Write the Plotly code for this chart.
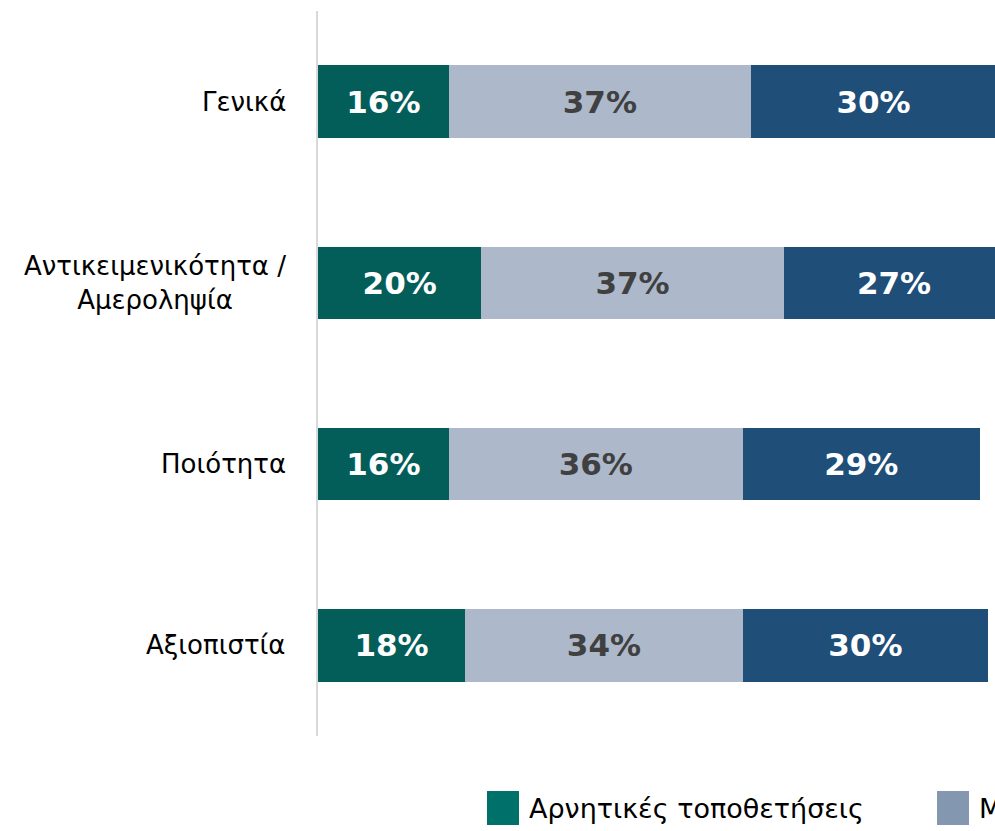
import plotly.graph_objects as go

categories = ["Γενικά", "Αντικειμενικότητα /<br>Αμεροληψία", "Ποιότητα", "Αξιοπιστία"]
negative = [16, 20, 16, 18]
mixed = [37, 37, 36, 34]
positive = [30, 27, 29, 30]
series_names = ["Αρνητικές τοποθετήσεις", "Μεικτές τοποθετήσεις", "Θετικές τοποθετήσεις"]

bar_colors = ["#035E5A", "#ADB9CA", "#1F4E79"]
legend_colors = ["#00706B", "#8497B0", "#1F4E79"]
text_colors = ["white", "#404040", "white"]

# body margin is removed below, so figure coords = page coords
W, H = 995, 831
L, T, PW, PH = 318, 11, 677, 725

fig = go.Figure()
for name, vals, col, tcol in zip(series_names, [negative, mixed, positive], bar_colors, text_colors):
    fig.add_trace(go.Bar(
        y=categories, x=vals, name=name, orientation="h",
        marker=dict(color=col, line=dict(width=0)),
        text=[f"{v}%" for v in vals], textposition="inside", insidetextanchor="middle",
        textfont=dict(family="DejaVu Sans", size=31, color=tcol, weight="bold"),
        textangle=0, showlegend=False, hoverinfo="skip",
    ))

# category labels (centered multi-line, right-anchored)
for c in categories:
    fig.add_annotation(x=0, xref="paper", y=c, yref="y", text=c, showarrow=False,
                       xanchor="right", xshift=-30, align="center",
                       font=dict(family="DejaVu Sans", size=26, color="#000000"))

# legend drawn at the bottom (page x of each marker)
leg_x = [487, 937]
for name, col, lx in zip(series_names[:2], legend_colors[:2], leg_x):
    fx = lx - L
    fig.add_shape(type="rect", xref="paper", yref="paper",
                  x0=fx / PW, x1=(fx + 32) / PW,
                  y0=-(791 - T - PH) / PH, y1=-(825 - T - PH) / PH,
                  fillcolor=col, line=dict(width=0))
    fig.add_annotation(x=(fx + 40) / PW, xref="paper", y=-(808 - T - PH) / PH, yref="paper",
                       text=name, showarrow=False, xanchor="left", yanchor="middle",
                       font=dict(family="DejaVu Sans", size=27, color="#000000"))

fig.update_layout(
    barmode="stack",
    bargap=0.6,
    width=W, height=H,
    margin=dict(l=L, r=W - L - PW, t=T, b=H - T - PH),
    paper_bgcolor="white", plot_bgcolor="white",
    showlegend=False,
    hovermode=False,
)
fig.update_xaxes(range=[0, PW / 8.17], visible=False, fixedrange=True)
fig.update_yaxes(autorange="reversed", showticklabels=False, showgrid=False, fixedrange=True,
                 showline=True, linecolor="#D9D9D9", linewidth=2, ticks="", zeroline=False)

# chart is cropped at the window edge like the reference
fig.write_html("out.html", config={"displayModeBar": False}, post_script=(
    "document.documentElement.style.overflow='hidden';"
    "document.body.style.overflow='hidden';"
    "document.body.style.margin='0';"
))
